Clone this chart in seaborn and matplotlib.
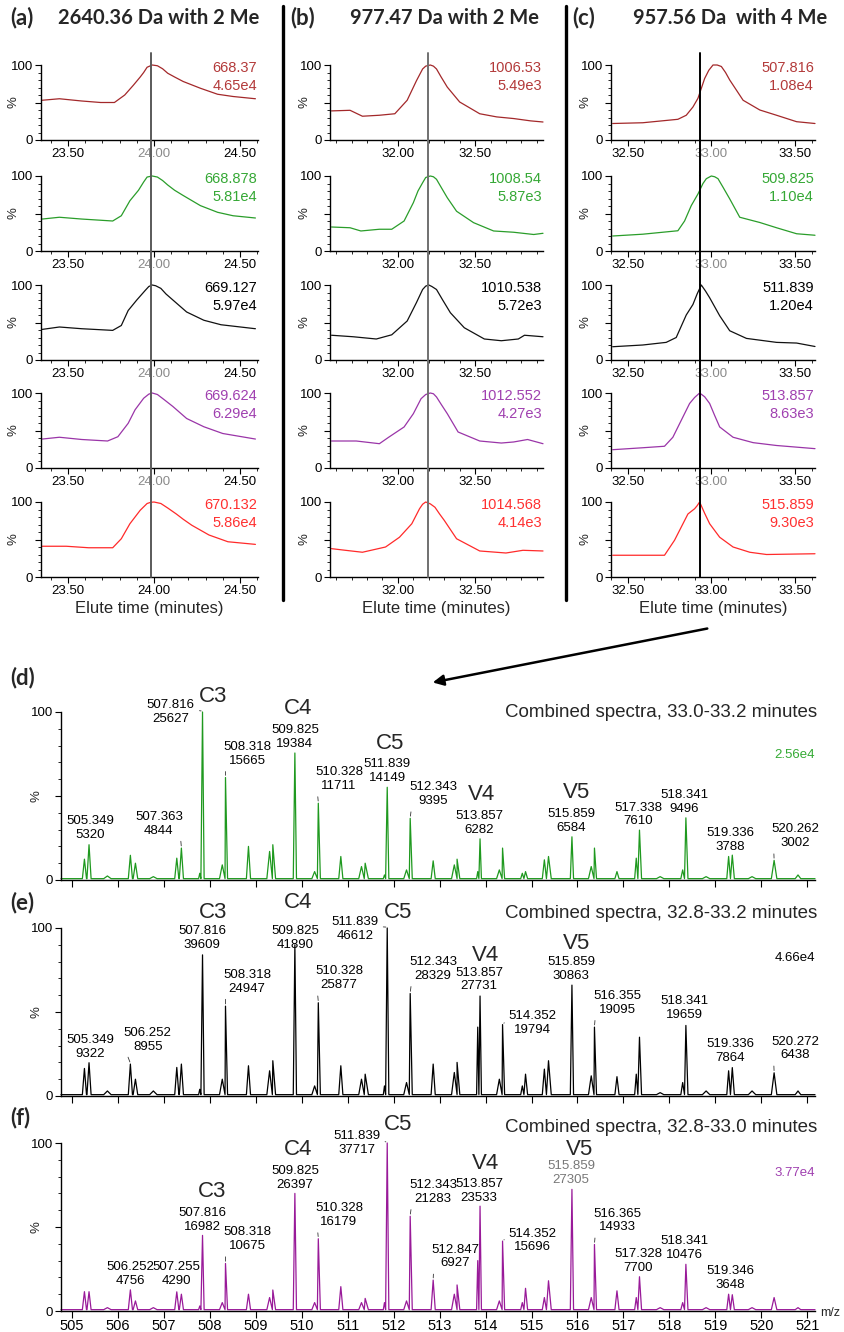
import matplotlib
matplotlib.use("Agg")
import matplotlib.pyplot as plt
import seaborn as sns
from matplotlib.ticker import MultipleLocator
from matplotlib.lines import Line2D
from matplotlib.patches import FancyArrowPatch

sns.set_style("ticks")
plt.rcParams['font.family'] = ['Liberation Sans', 'DejaVu Sans']

# ---------------------------------------------------------------- data
PANEL_TAGS = ["(a)", "(b)", "(c)"]
PANEL_TITLES = ["2640.36 Da with 2 Me", "977.47 Da with 2 Me", "957.56 Da  with 4 Me"]
MARK_TIME = [23.98, 32.195, 32.935]

A_MZ = ["668.37", "668.878", "669.127", "669.624", "670.132"]
A_INT = ["4.65e4", "5.81e4", "5.97e4", "6.29e4", "5.86e4"]
A_TIME = [
    [23.35, 23.45, 23.58, 23.69, 23.77, 23.83, 23.88, 23.92, 23.94, 23.96, 23.99, 24.02, 24.05, 24.08, 24.12, 24.17, 24.27, 24.37, 24.46, 24.59],
    [23.35, 23.45, 23.58, 23.76, 23.81, 23.86, 23.91, 23.94, 23.96, 23.99, 24.02, 24.05, 24.08, 24.12, 24.17, 24.27, 24.37, 24.46, 24.59],
    [23.35, 23.45, 23.58, 23.76, 23.81, 23.85, 23.90, 23.95, 23.97, 23.99, 24.01, 24.04, 24.07, 24.11, 24.19, 24.29, 24.39, 24.59],
    [23.35, 23.45, 23.58, 23.73, 23.79, 23.85, 23.89, 23.94, 23.97, 23.99, 24.02, 24.06, 24.11, 24.15, 24.19, 24.29, 24.40, 24.59],
    [23.35, 23.49, 23.62, 23.76, 23.81, 23.86, 23.92, 23.96, 23.98, 24.00, 24.04, 24.08, 24.13, 24.17, 24.22, 24.32, 24.43, 24.59],
]
A_PCT = [
    [53, 55, 52, 50, 50, 60, 73, 84, 90, 97, 100, 99, 95, 89, 84, 78, 69, 61, 58, 55],
    [42.6, 45, 42.6, 40, 47, 67, 81, 92, 98.6, 100, 98.6, 94, 88, 81, 74, 60.5, 51.6, 47, 44],
    [40.8, 44, 41.7, 39.5, 46, 66, 80, 93, 98, 100, 99, 95.5, 88, 80, 64, 53, 47, 41.7],
    [38.6, 41, 38, 36, 41.7, 59.6, 77.6, 93, 98.5, 100, 98, 91, 82, 74, 66, 55, 46, 38.6],
    [41, 41, 39, 39, 51, 71, 89, 98, 99.5, 100, 98, 92, 84, 77, 69, 56, 47, 43.5],
]

B_MZ = ["1006.53", "1008.54", "1010.538", "1012.552", "1014.568"]
B_INT = ["5.49e3", "5.87e3", "5.72e3", "4.27e3", "4.14e3"]
B_TIME = [
    [31.57, 31.69, 31.77, 31.88, 31.98, 32.06, 32.12, 32.16, 32.18, 32.21, 32.23, 32.25, 32.28, 32.32, 32.40, 32.53, 32.64, 32.75, 32.86, 32.94],
    [31.57, 31.69, 31.76, 31.88, 31.96, 32.04, 32.10, 32.13, 32.16, 32.18, 32.21, 32.23, 32.25, 32.28, 32.32, 32.38, 32.49, 32.62, 32.75, 32.88, 32.94],
    [31.57, 31.71, 31.86, 31.96, 32.06, 32.12, 32.16, 32.18, 32.20, 32.22, 32.25, 32.29, 32.34, 32.43, 32.56, 32.67, 32.78, 32.82, 32.94],
    [31.57, 31.73, 31.88, 31.94, 32.04, 32.10, 32.15, 32.18, 32.21, 32.23, 32.25, 32.28, 32.32, 32.39, 32.53, 32.67, 32.75, 32.84, 32.94],
    [31.57, 31.66, 31.77, 31.92, 32.01, 32.09, 32.14, 32.16, 32.18, 32.21, 32.24, 32.27, 32.30, 32.38, 32.53, 32.70, 32.81, 32.94],
]
B_PCT = [
    [38.8, 39.6, 31.7, 33, 35, 53, 79, 94.7, 98.5, 100, 98.5, 94.7, 84, 70.5, 50.7, 35, 30.8, 28.6, 25.5, 24],
    [32, 31, 26.7, 29, 29, 40, 64.4, 80, 91, 98, 100, 99, 95.6, 85, 71, 53, 37.8, 26.7, 25, 22, 23.6],
    [33, 31, 28, 33.6, 52, 76.5, 94, 98.5, 100, 98, 94, 80, 63, 43, 28, 25.7, 28, 33, 31],
    [36, 36, 32.4, 41, 54.7, 72.4, 92.4, 98, 100, 99, 94.7, 85, 72.4, 48, 36, 33.3, 34.7, 38, 32.4],
    [37.8, 35.6, 33, 40, 53, 71, 91, 97, 100, 97.5, 93, 84, 75.6, 51, 34.7, 32, 35.6, 34.7],
]

C_MZ = ["507.816", "509.825", "511.839", "513.857", "515.859"]
C_INT = ["1.08e4", "1.10e4", "1.20e4", "8.63e3", "9.30e3"]
C_TIME = [
    [32.41, 32.59, 32.80, 32.85, 32.89, 32.92, 32.96, 32.985, 33.01, 33.035, 33.06, 33.085, 33.11, 33.19, 33.29, 33.39, 33.51, 33.62],
    [32.41, 32.59, 32.80, 32.84, 32.88, 32.92, 32.95, 32.97, 33.00, 33.02, 33.04, 33.07, 33.11, 33.17, 33.29, 33.39, 33.51, 33.62],
    [32.41, 32.59, 32.73, 32.79, 32.85, 32.89, 32.915, 32.94, 32.965, 32.99, 33.05, 33.11, 33.21, 33.39, 33.51, 33.62],
    [32.41, 32.59, 32.72, 32.77, 32.83, 32.87, 32.90, 32.93, 32.96, 32.99, 33.02, 33.05, 33.13, 33.25, 33.39, 33.62],
    [32.41, 32.72, 32.78, 32.86, 32.90, 32.915, 32.93, 32.96, 32.99, 33.05, 33.13, 33.23, 33.33, 33.62],
]
C_PCT = [
    [22, 23, 27.6, 33, 44, 55.6, 82, 93, 100, 100, 98, 90, 80, 53, 40, 33, 24.4, 22],
    [20, 22.4, 27, 40, 60.5, 76, 90, 96.4, 100, 99, 96.4, 85, 69.5, 45, 38, 31, 23, 21],
    [17.7, 20, 23.5, 30, 60, 74, 88, 100, 92, 83, 59, 39, 28.8, 23.5, 22.6, 18],
    [24.4, 27, 29, 41, 68, 86, 94, 100, 95, 86, 70, 54.7, 41, 33.8, 30, 25.8],
    [29, 29, 49, 84, 91, 95, 100, 85, 71, 53, 40, 33, 30, 31],
]

# mass spectra: shared peak list (m/z, half width) and relative intensities
PEAK_MZ = [505.27, 505.37, 505.77, 506.27, 506.38, 506.77, 507.28, 507.38, 507.78, 507.84,
           508.27, 508.34, 508.84, 509.30, 509.37, 509.85, 510.28, 510.36, 510.85, 511.30,
           511.38, 511.80, 511.86, 512.28, 512.36, 512.86, 513.32, 513.38, 513.83, 513.88,
           514.30, 514.37, 514.80, 514.87, 515.28, 515.37, 515.88, 516.30, 516.37, 516.86,
           517.28, 517.35, 517.80, 518.29, 518.36, 518.80, 519.29, 519.37, 519.80, 520.28, 520.80]
PEAK_HW = [.045, .045, .08, .045, .05, .08, .045, .045, .025, .035,
           .06, .045, .045, .06, .06, .035, .06, .045, .045, .06,
           .07, .025, .035, .06, .045, .045, .06, .06, .025, .03,
           .06, .045, .035, .045, .045, .06, .035, .06, .045, .045,
           .035, .045, .08, .04, .045, .08, .04, .045, .08, .06, .06]
D_PCT = [12.4, 21, 2.4, 14.7, 10, 2, 13, 19, 4, 100, 9, 61, 20, 17, 21, 75.6, 5, 45.7, 14, 8,
         10, 3, 55.2, 6, 36.7, 11.4, 9, 12.4, 5, 24.5, 6, 19, 4, 5, 12, 14, 25.7, 8, 19, 5,
         13, 29.7, 2, 6, 37, 2, 14, 14.8, 2, 11.7, 3]
E_PCT = [16.4, 19.8, 3, 19, 10, 3, 17, 19, 4, 84, 10, 53.5, 18, 15, 21, 90, 6, 55.5, 18, 10,
         13, 6, 100, 8, 61, 19, 14, 20, 41, 59.5, 10, 42.5, 6, 13, 16, 21, 66, 12, 41, 11.5,
         13, 35, 2, 8, 42, 3, 15, 16.9, 3, 13.8, 3]
F_PCT = [11.5, 11.5, 2, 12.6, 6, 2, 11.4, 10, 3, 45, 5, 28.3, 10, 8, 12.5, 70, 5, 43, 14.5, 5,
         7.5, 5, 100, 6, 56.4, 18.4, 10, 15.5, 30, 62.4, 6, 41.6, 5, 13.5, 8, 18, 72.4, 8, 39.6, 12,
         8, 20.4, 2, 5, 27.8, 2, 10, 9.7, 2, 8, 2]
BASELINE = 0.8

SPEC_TITLES = ["Combined spectra, 33.0-33.2 minutes", "Combined spectra, 32.8-33.2 minutes",
               "Combined spectra, 32.8-33.0 minutes"]
SPEC_TAGS = ["(d)", "(e)", "(f)"]
SPEC_MAX = ["2.56e4", "4.66e4", "3.77e4"]
MZ_TICKS = list(range(505, 522))

# peak labels: (m/z text, counts text, label x, label y, leader style, peak index)
D_LABELS = [("505.349", "5320", 505.39, 31, "", 1), ("507.363", "4844", 506.89, 33.5, "L", 7),
            ("507.816", "25627", 507.15, 100, "H", 9), ("508.318", "15665", 508.81, 75, "R", 11),
            ("509.825", "19384", 509.85, 85, "", 15), ("510.328", "11711", 510.81, 60, "R", 17),
            ("511.839", "14149", 511.86, 65, "", 22), ("512.343", "9395", 512.86, 51, "R", 24),
            ("513.857", "6282", 513.86, 34, "", 29), ("515.859", "6584", 515.86, 35, "", 36),
            ("517.338", "7610", 517.32, 39, "", 41), ("518.341", "9496", 518.32, 46.6, "", 44),
            ("519.336", "3788", 519.32, 24, "", 47), ("520.262", "3002", 520.74, 26, "R", 49)]
E_LABELS = [("505.349", "9322", 505.39, 29.3, "", 1), ("506.252", "8955", 506.65, 33.5, "R", 3),
            ("507.816", "39609", 507.83, 94, "", 9), ("508.318", "24947", 508.81, 68, "R", 11),
            ("509.825", "41890", 509.85, 94, "", 15), ("510.328", "25877", 510.81, 70, "R", 17),
            ("511.839", "46612", 511.16, 99.6, "H", 22), ("512.343", "28329", 512.86, 75.6, "R", 24),
            ("513.857", "27731", 513.86, 69.3, "", 29), ("514.352", "19794", 515.03, 43.6, "HR", 31),
            ("515.859", "30863", 515.86, 75.8, "", 36), ("516.355", "19095", 516.86, 55.4, "R", 38),
            ("518.341", "19659", 518.32, 52.5, "", 44), ("519.336", "7864", 519.32, 26.7, "", 47),
            ("520.272", "6438", 520.74, 28.3, "R", 49)]
F_LABELS = [("506.252", "4756", 506.28, 21.9, "", 3), ("507.255", "4290", 507.28, 21.9, "", 6),
            ("507.816", "16982", 507.83, 54, "", 9), ("508.318", "10675", 508.81, 42.7, "R", 11),
            ("509.825", "26397", 509.85, 79, "", 15), ("510.328", "16179", 510.81, 57, "R", 17),
            ("511.839", "37717", 511.20, 100.2, "H", 22), ("512.343", "21283", 512.86, 70.8, "R", 24),
            ("512.847", "6927", 513.34, 32.4, "R", 25), ("513.857", "23533", 513.86, 71.6, "", 29),
            ("514.352", "15696", 515.03, 42, "HR", 31), ("515.859", "27305", 515.86, 82.3, "G", 36),
            ("516.365", "14933", 516.86, 53.9, "R", 38), ("517.328", "7700", 517.32, 29.8, "", 41),
            ("518.341", "10476", 518.32, 37.6, "", 44), ("519.346", "3648", 519.32, 19.7, "", 47)]
D_GROUPS = [("C3", 508.07, 109), ("C4", 509.92, 102), ("C5", 511.92, 81.5), ("V4", 513.92, 51), ("V5", 515.99, 52)]
E_GROUPS = [("C3", 508.07, 109.5), ("C4", 509.92, 115), ("C5", 512.10, 109.5), ("V4", 513.99, 83.8), ("V5", 515.99, 90.7)]
F_GROUPS = [("C3", 508.05, 71), ("C4", 509.92, 96), ("C5", 512.10, 111), ("V4", 513.99, 87.7), ("V5", 516.04, 96)]

# ---------------------------------------------------------------- styling
W, H = 844, 1332
TRACE_COLORS = ["#a3282a", "#2a9d2a", "#111111", "#9a35a8", "#ff2a2a"]
LABEL_COLORS = ["#b33a3a", "#35a835", "#000000", "#a040b0", "#ff3030"]
SPEC_COLORS = ["#1f991f", "#000000", "#991a99"]
SPEC_MAX_COLORS = ["#33aa33", "#000000", "#a040b0"]

fig = plt.figure(figsize=(W / 100, H / 100), dpi=100)


def box(l, t, r, b):
    return [l / W, 1 - b / H, (r - l) / W, (b - t) / H]


def ftext(x, y, s, **kw):
    fig.text(x / W, 1 - y / H, s, **kw)


def style_axes(ax, tick_fs):
    sns.despine(ax=ax)
    for s in ("left", "bottom"):
        ax.spines[s].set_linewidth(1.0)
        ax.spines[s].set_color("black")
    ax.tick_params(which="major", length=4, width=0.8, labelsize=tick_fs, pad=1.5, colors="black")
    ax.tick_params(which="minor", length=2.2, width=0.7)
    ax.set_ylim(0, 100)
    ax.set_yticks([0, 50, 100])
    ax.set_yticklabels(["0", "", "100"])
    ax.yaxis.set_minor_locator(MultipleLocator(10))
    ax.set_xlabel("")
    ax.set_ylabel("%", fontsize=9.5)


ROW_TOP = [65, 176, 285, 393, 502]
COLS = [
    dict(left=41, right=258, times=A_TIME, pcts=A_PCT, mz=A_MZ, inten=A_INT, xlim=(23.343, 24.605),
         ticks=[23.5, 24.0, 24.5], gray=24.0, lcol="#5a5a5a", ylab=-0.1, title_x=159, tag_x=10),
    dict(left=330, right=543, times=B_TIME, pcts=B_PCT, mz=B_MZ, inten=B_INT, xlim=(31.56, 32.94),
         ticks=[32.0, 32.5], gray=None, lcol="#707070", ylab=-0.09, title_x=445, tag_x=290),
    dict(left=611, right=815, times=C_TIME, pcts=C_PCT, mz=C_MZ, inten=C_INT, xlim=(32.40, 33.62),
         ticks=[32.5, 33.0, 33.5], gray=33.0, lcol="#000000", ylab=-0.098, title_x=730, tag_x=572),
]

for ci, col in enumerate(COLS):
    for r in range(5):
        top = ROW_TOP[r]
        ax = fig.add_axes(box(col["left"], top, col["right"], top + 75))
        sns.lineplot(x=col["times"][r], y=col["pcts"][r], ax=ax, color=TRACE_COLORS[r],
                     lw=0.9, estimator=None, sort=False)
        ax.lines[-1].set_clip_on(False)
        style_axes(ax, 9.5)
        ax.set_xlim(*col["xlim"])
        ax.set_xticks(col["ticks"])
        ax.set_xticklabels([f"{t:.2f}" for t in col["ticks"]])
        ax.xaxis.set_minor_locator(MultipleLocator(0.1))
        if col["gray"] is not None and r < 4:
            for t, lab in zip(col["ticks"], ax.get_xticklabels()):
                if abs(t - col["gray"]) < 1e-6:
                    lab.set_color("#8a8a8a")
        ax.yaxis.set_label_coords(col["ylab"], 0.5)
        ax.text(0.995, 0.955, col["mz"][r], transform=ax.transAxes, ha="right", va="center",
                fontsize=10.5, color=LABEL_COLORS[r])
        ax.text(0.995, 0.725, col["inten"][r], transform=ax.transAxes, ha="right", va="center",
                fontsize=10.5, color=LABEL_COLORS[r])
        ymax = 1.16 if r == 0 else 1.0
        ymin = 0.0 if r == 4 else -0.49
        ax.axvline(MARK_TIME[ci], ymin=ymin, ymax=ymax, color=col["lcol"], lw=1.4, clip_on=False, zorder=5)
    ftext((col["left"] + col["right"]) / 2, 609, "Elute time (minutes)", ha="center", va="center", fontsize=12)
    ftext(col["tag_x"], 18, PANEL_TAGS[ci], ha="left", va="center", fontsize=16, fontweight="bold",
          family=["Lato", "DejaVu Sans"])
    ftext(col["title_x"], 18, PANEL_TITLES[ci], ha="center", va="center", fontsize=14.5, fontweight="bold",
          family=["Lato", "DejaVu Sans"])

# column separators
for xs in (283, 566):
    fig.add_artist(Line2D([xs / W, xs / W], [1 - 6 / H, 1 - 600 / H], color="black", lw=2.4,
                          transform=fig.transFigure))

# arrow from (c) to (d)
fig.add_artist(FancyArrowPatch((710 / W, 1 - 628 / H), (430 / W, 1 - 683 / H), transform=fig.transFigure,
                               arrowstyle="-|>", mutation_scale=16, lw=1.8, color="black"))

# ---------------------------------------------------------------- spectra
SPEC_TOPS = [712, 928, 1143]
SPEC_PCTS = [D_PCT, E_PCT, F_PCT]
SPEC_LABELS = [D_LABELS, E_LABELS, F_LABELS]
SPEC_GROUPS = [D_GROUPS, E_GROUPS, F_GROUPS]
SPEC_TAG_Y = [678, 903, 1118]
SPEC_TITLE_Y = [712, 913, 1127]
SPEC_MAX_Y = [755, 958, 1173]
XLIM_S = (504.76, 521.17)


def spectrum_xy(pct):
    xs, ys = [XLIM_S[0]], [BASELINE]
    for mz, hw, h in zip(PEAK_MZ, PEAK_HW, pct):
        left = max(mz - hw, xs[-1])
        xs += [left, mz, mz + hw]
        ys += [BASELINE, h, BASELINE]
    xs.append(XLIM_S[1])
    ys.append(BASELINE)
    return xs, ys


for si in range(3):
    top = SPEC_TOPS[si]
    ax = fig.add_axes(box(61, top, 815, top + 168))
    xs, ys = spectrum_xy(SPEC_PCTS[si])
    sns.lineplot(x=xs, y=ys, ax=ax, color=SPEC_COLORS[si], lw=0.9, estimator=None, sort=False)
    ax.lines[-1].set_clip_on(False)
    style_axes(ax, 9.5)
    ax.set_xlim(*XLIM_S)
    ax.set_xticks(MZ_TICKS)
    ax.tick_params(axis="x", which="major", length=5, labelsize=10.5, pad=0.5)
    if si < 2:
        ax.set_xticklabels([])
    ax.yaxis.set_label_coords(-0.024, 0.5)
    pct = SPEC_PCTS[si]
    for t1, t2, lx, ly, style, pk in SPEC_LABELS[si]:
        col = "#777777" if style == "G" else "black"
        txt = f"{t1}\n{t2}"
        px, py = PEAK_MZ[pk], pct[pk]
        if style in ("L", "R", "H", "HR"):
            relpos = {"L": (0.95, 0.0), "R": (0.05, 0.0), "H": (1.0, 0.58), "HR": (0.0, 0.58)}[style]
            ax.annotate(txt, xy=(px, py + 0.5), xytext=(lx, ly), ha="center", va="center", fontsize=9.5,
                        color=col, linespacing=1.2, annotation_clip=False,
                        arrowprops=dict(arrowstyle="-", lw=0.6, color="#333333", relpos=relpos,
                                        shrinkA=1, shrinkB=1))
        else:
            ax.text(lx, ly, txt, ha="center", va="center", fontsize=9.5, color=col, linespacing=1.2,
                    clip_on=False)
    for g, gx, gy in SPEC_GROUPS[si]:
        ax.text(gx, gy, g, ha="center", va="center", fontsize=16, clip_on=False)
    ftext(817, SPEC_TITLE_Y[si], SPEC_TITLES[si], ha="right", va="center", fontsize=13.5)
    ftext(815, SPEC_MAX_Y[si], SPEC_MAX[si], ha="right", va="center", fontsize=9.5, color=SPEC_MAX_COLORS[si])
    ftext(10, SPEC_TAG_Y[si], SPEC_TAGS[si], ha="left", va="center", fontsize=16, fontweight="bold",
          family=["Lato", "DejaVu Sans"])

ftext(820, 1313, "m/z", ha="left", va="center", fontsize=9)

fig.savefig("out.png", dpi=100)
